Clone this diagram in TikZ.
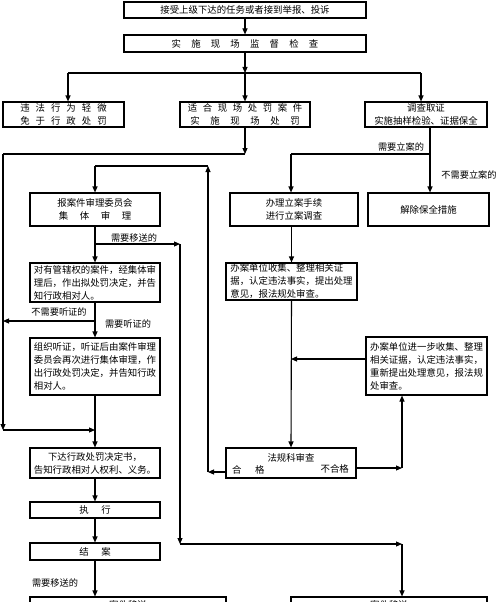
\documentclass[tikz,border=0pt]{standalone}
\usepackage{fontspec}
\setmainfont{Noto Sans CJK SC}
\usetikzlibrary{arrows.meta}
\newcommand\gapp[1]{\hspace{#1pt}}
\begin{document}
\begin{tikzpicture}[x=1pt,y=-1pt,
  box/.style={draw, line width=1.1pt, inner sep=0pt, font=\fontsize{9.4}{13}\selectfont, align=center},
  boxl/.style={box, align=left},
  lab/.style={font=\fontsize{9.2}{11}\selectfont, inner sep=0pt},
  con/.style={line width=1.1pt},
  arr/.style={con, -{Triangle[length=6pt,width=5pt]}}]
\useasboundingbox (0,0) rectangle (500,602);
\fill[white] (0,0) rectangle (500,602);
\clip (0,0) rectangle (500,602);

% boxes
\node[box, minimum width=242pt, minimum height=16pt] (n1) at (245,10) {接受上级下达的任务或者接到举报、投诉};
\node[box, minimum width=242pt, minimum height=17pt] (n2) at (245,43.5) {实\gapp{10.2}施\gapp{10.2}现\gapp{10.2}场\gapp{10.2}监\gapp{10.2}督\gapp{10.2}检\gapp{10.2}查};
\node[box, minimum width=121pt, minimum height=25pt] (nL) at (63.5,114.5) {违\gapp{6}法\gapp{6}行\gapp{6}为\gapp{6}轻\gapp{6}微\\免\gapp{6}于\gapp{6}行\gapp{6}政\gapp{6}处\gapp{6}罚};
\node[box, minimum width=130pt, minimum height=25pt] (nM) at (245,114.5) {适\gapp{5.6}合\gapp{5.6}现\gapp{5.6}场\gapp{5.6}处\gapp{5.6}罚\gapp{5.6}案\gapp{5.6}件\\实\gapp{10.6}施\gapp{10.6}现\gapp{10.6}场\gapp{10.6}处\gapp{10.6}罚};
\node[box, minimum width=122pt, minimum height=25pt] (nR) at (426,114.5) {调查取证\\实施抽样检验、证据保全};
\node[box, minimum width=130pt, minimum height=33pt] (nA) at (95,209.5) {报案件审理委员会\\集\gapp{11.6}体\gapp{11.6}审\gapp{11.6}理};
\node[box, minimum width=128pt, minimum height=33pt] (nB) at (294,209.5) {办理立案手续\\进行立案调查};
\node[box, minimum width=121pt, minimum height=33pt] (nC) at (428.5,209.5) {解除保全措施};
\node[boxl, minimum width=130pt, minimum height=39pt] (nD) at (95,282.5) {对有管辖权的案件，经集体审\\理后，作出拟处罚决定，并告\\知行政相对人。};
\node[boxl, minimum width=131pt, minimum height=37pt] (nE) at (291.5,281.5) {办案单位收集、整理相关证\\据，认定违法事实，提出处理\\意见，报法规处审查。};
\node[boxl, minimum width=130pt, minimum height=57pt] (nF) at (95,366.5) {组织听证，听证后由案件审理\\委员会再次进行集体审理，作\\出行政处罚决定，并告知行政\\相对人。};
\node[boxl, minimum width=121pt, minimum height=58pt] (nG) at (426.5,366) {办案单位进一步收集、整理\\相关证据，认定违法事实，\\重新提出处理意见，报法规\\处审查。};
\node[box, minimum width=130pt, minimum height=30pt] (nH) at (95,463) {下达行政处罚决定书，\\告知行政相对人权利、义务。};
\node[box, minimum width=130pt, minimum height=30pt] (nI) at (291,463) {};
\node[lab, font=\fontsize{9.4}{11}\selectfont] (nIt) at (291,457.5) {法规科审查};
\node[lab, font=\fontsize{9.4}{11}\selectfont, anchor=west] (nIl) at (232,470) {合\gapp{13.6}格};
\node[lab, font=\fontsize{9.4}{11}\selectfont, anchor=east] (nIr) at (349,469) {不合格};
\node[box, minimum width=130pt, minimum height=16pt] (nJ) at (95,510) {执\gapp{12.6}行};
\node[box, minimum width=130pt, minimum height=17pt] (nK) at (95,551.5) {结\gapp{12.6}案};
\node[box, minimum width=196pt, minimum height=16pt] (nL1) at (128,605) {案件移送};
\node[box, minimum width=196pt, minimum height=16pt] (nR1) at (389,605) {案件移送};

% junction coordinates
\coordinate (j0) at (245,73);
\coordinate (jL) at (68,73);
\coordinate (jR) at (421,73);
\coordinate (j1) at (245,154);
\coordinate (j2) at (3,154);
\coordinate (j3) at (3,430);
\coordinate (j4) at (95,244);
\coordinate (j5) at (180,244);
\coordinate (j6) at (180,544);
\coordinate (j7) at (402,544);
\coordinate (j8) at (95,321);
\coordinate (j9) at (430,154);
\coordinate (j10) at (291,154);
\coordinate (j11) at (291,359);
\coordinate (j12) at (402,468);
\coordinate (j13) at (208,472);
\coordinate (j14) at (208,166);
\coordinate (j15) at (95,166);

% connectors
\draw[arr] (n1.south) -- (n2.north);
\draw[arr] (n2.south) -- (j0);
\draw[con] (jL) -- (jR);
\draw[arr] (jL) -- (jL |- nL.north);
\draw[arr] (j0) -- (nM.north);
\draw[arr] (jR) -- (jR |- nR.north);

\draw[arr] (nM.south) -- (j1);
\draw[con] (j1) -- (j2);
\draw[arr] (j2) -- (j3);
\draw[arr] (j3) -- (j3 -| nH.north);

\draw[arr] (nA.south) -- (nD.north);
\draw[arr] (j4) -- (j5);
\draw[arr] (j5) -- (j6);
\draw[arr] (j6) -- (j7);
\draw[arr] (j7) -- (j7 |- nR1.north);

\draw[arr] (nD.south) -- (nF.north);
\draw[arr] (j8) -- (j8 -| j2);
\draw[arr] (nF.south) -- (nH.north);
\draw[arr] (nH.south) -- (nJ.north);
\draw[arr] (nJ.south) -- (nK.north);
\draw[arr] (nK.south) -- (nK.south |- nL1.north);

\draw[con] (j9 |- nR.south) -- (j9);
\draw[con] (j9) -- (j10);
\draw[arr] (j10) -- (j10 |- nB.north);
\draw[arr] (j9) -- (j9 |- nC.north);
\draw[arr] (nB.south -| nE.north) -- (nE.north);
\draw[arr] (nE.south) -- (nI.north);
\draw[arr] (nG.west |- j11) -- (j11);
\draw[arr] (nI.east |- j12) -- (j12);
\draw[arr] (j12) -- (j12 |- nG.south);
\draw[arr] (nI.west |- j13) -- (j13);
\draw[arr] (j13) -- (j14);
\draw[con] (j14) -- (j15);
\draw[arr] (j15) -- (j15 |- nA.north);

% labels
\node[lab] (t1) at (134,238) {需要移送的};
\node[lab] (t2) at (59,312) {不需要听证的};
\node[lab] (t3) at (128,324) {需要听证的};
\node[lab] (t4) at (55,583) {需要移送的};
\node[lab] (t5) at (401,147) {需要立案的};
\node[lab] (t6) at (469,175) {不需要立案的};
\end{tikzpicture}
\end{document}
